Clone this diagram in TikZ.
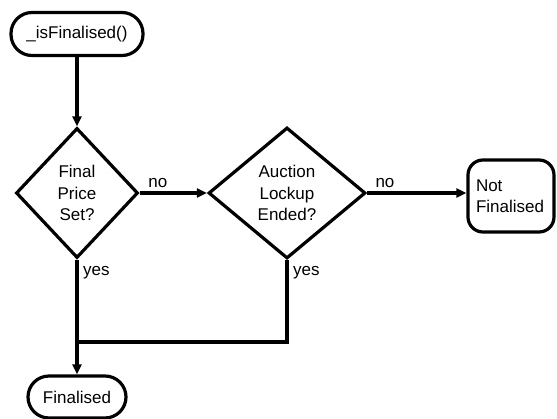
\documentclass[tikz,border=0pt]{standalone}
\usepackage{fontspec}
\setmainfont{Liberation Sans}
\usetikzlibrary{shapes.geometric,arrows.meta}
\begin{document}
\begin{tikzpicture}[x=1pt,y=-1pt,
  every node/.style={font=\fontsize{17}{21.5}\selectfont},
  terminal/.style={draw,line width=3.2pt,rounded corners=#1,inner sep=0pt},
  decision/.style={draw,diamond,line width=3.2pt,inner sep=0pt,align=center},
  flow/.style={line width=3.2pt,-{Triangle[length=10pt,width=9pt]}},
  plain/.style={line width=3.2pt},
  lbl/.style={inner sep=0pt}]
\useasboundingbox (0,0) rectangle (557,419);
\fill[white] (0,0) rectangle (557,419);

\node[terminal=21pt,minimum width=132pt,minimum height=43pt] (start) at (77,34) {\_isFinalised()};
\node[decision,minimum width=122pt,minimum height=130pt] (d1) at (77,193) {Final\\Price\\Set?};
\node[decision,minimum width=157pt,minimum height=131pt] (d2) at (287,193) {Auction\\Lockup\\Ended?};
\node[terminal=15pt,minimum width=86pt,minimum height=72pt,align=left,text width=70pt] (nf) at (511,196) {Not\\Finalised};
\node[terminal=21pt,minimum width=98pt,minimum height=42pt] (fin) at (77,397) {Finalised};
\coordinate (join) at (77,342);

\draw[flow] (start) -- (d1);
\draw[flow] (d1) -- node[lbl,above,pos=0.27,yshift=4pt] {no} (d2);
\draw[flow] (d2.east) -- node[lbl,above,pos=0.18,yshift=4pt] {no} (d2.east -| nf.west);
\draw[flow] (d1.south) -- (fin.north);
\draw[plain] (d2.south) |- (join);

\node[lbl,anchor=west] (y1) at (83,273) {yes};
\node[lbl,anchor=west] (y2) at (293,273) {yes};
\end{tikzpicture}
\end{document}
